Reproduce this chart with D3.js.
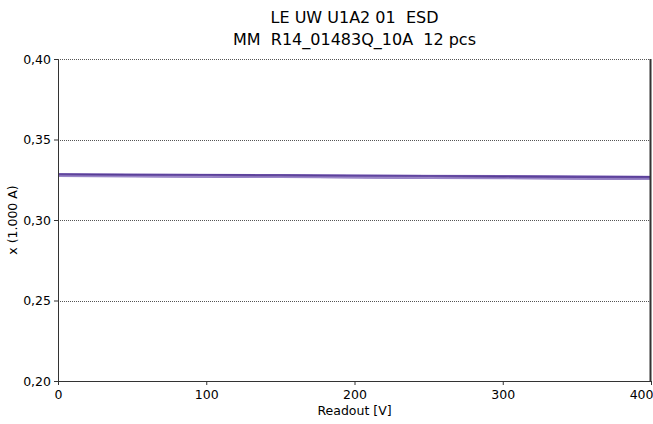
<!DOCTYPE html>
<meta charset="utf-8">
<style>
    body { margin: 0; background: #fff; }
    text { font-family: "DejaVu Sans", sans-serif; fill: #000; white-space: pre; }
    .grid line { stroke: #555; stroke-width: 1px; stroke-dasharray: 1,1; }
    .curve { fill: none; stroke-width: 1.8px; }
</style>
<body>
<script src="https://d3js.org/d3.v7.min.js"></script>
<script>

    // readout voltages
    var volts = [0, 50, 100, 150, 200, 250, 300, 350, 400];

    // 12 pieces, x (1.000 A)
    var pc01 = [0.3286, 0.3284, 0.3282, 0.3280, 0.3278, 0.3276, 0.3274, 0.3272, 0.3270];
    var pc02 = [0.3284, 0.3282, 0.3280, 0.3278, 0.3276, 0.3274, 0.3272, 0.3270, 0.3268];
    var pc03 = [0.3282, 0.3280, 0.3278, 0.3276, 0.3274, 0.3271, 0.3269, 0.3267, 0.3265];
    var pc04 = [0.3281, 0.3279, 0.3277, 0.3275, 0.3272, 0.3270, 0.3268, 0.3265, 0.3263];
    var pc05 = [0.3280, 0.3278, 0.3276, 0.3274, 0.3271, 0.3269, 0.3267, 0.3264, 0.3262];
    var pc06 = [0.3279, 0.3277, 0.3275, 0.3273, 0.3270, 0.3268, 0.3266, 0.3263, 0.3261];
    var pc07 = [0.3278, 0.3276, 0.3274, 0.3272, 0.3269, 0.3267, 0.3265, 0.3262, 0.3260];
    var pc08 = [0.3277, 0.3275, 0.3273, 0.3271, 0.3268, 0.3266, 0.3264, 0.3261, 0.3259];
    var pc09 = [0.3276, 0.3274, 0.3272, 0.3270, 0.3267, 0.3265, 0.3263, 0.3260, 0.3258];
    var pc10 = [0.3275, 0.3273, 0.3271, 0.3269, 0.3266, 0.3264, 0.3262, 0.3259, 0.3257];
    var pc11 = [0.3274, 0.3272, 0.3270, 0.3268, 0.3265, 0.3263, 0.3261, 0.3258, 0.3256];
    var pc12 = [0.3272, 0.3270, 0.3268, 0.3266, 0.3263, 0.3261, 0.3259, 0.3256, 0.3254];

    var pieces = [pc01, pc02, pc03, pc04, pc05, pc06, pc07, pc08, pc09, pc10, pc11, pc12];
    var colors = ["#a896d0", "#6a4ea8", "#5a3d98", "#4f3590", "#7a60b8", "#553a94",
                  "#61469f", "#4b3289", "#5d4299", "#8c74c0", "#543993", "#9a86c8"];

    var xTicks = [0, 100, 200, 300, 400];
    var yTicks = [0.20, 0.25, 0.30, 0.35, 0.40];

    var titleLines = ["LE UW U1A2 01  ESD", "MM  R14_01483Q_10A  12 pcs"];

    var margin = { top: 59, right: 2, bottom: 43, left: 58 },
        width = 653 - margin.left - margin.right,
        height = 424 - margin.top - margin.bottom;

    var svg = d3.select("body").append("svg")
        .attr("width", 653)
        .attr("height", 424);

    var g = svg.append("g")
        .attr("transform", "translate(" + margin.left + "," + margin.top + ")");

    var x = d3.scaleLinear().domain([0, 400]).range([0, width]);
    var y = d3.scaleLinear().domain([0.20, 0.40]).range([height, 0]);

    // dotted gridlines
    g.append("g").attr("class", "grid")
        .selectAll("line")
        .data(yTicks)
        .enter().append("line")
        .attr("x1", 0).attr("x2", width)
        .attr("y1", function (d) { return Math.round(y(d)) + 0.5; })
        .attr("y2", function (d) { return Math.round(y(d)) + 0.5; });

    // curves
    var line = d3.line()
        .x(function (d, i) { return x(volts[i]); })
        .y(function (d) { return y(d); });

    g.selectAll(".curve")
        .data(pieces)
        .enter().append("path")
        .attr("class", "curve")
        .style("stroke", function (d, i) { return colors[i]; })
        .attr("d", line);

    // axes
    var fmt = function (d) { return d3.format(".2f")(d).replace(".", ","); };

    var yAxis = g.append("g")
        .call(d3.axisLeft(y).tickValues(yTicks).tickFormat(fmt).tickSize(4).tickSizeOuter(0));
    var xAxis = g.append("g")
        .attr("transform", "translate(0," + height + ")")
        .call(d3.axisBottom(x).tickValues(xTicks).tickSize(4).tickSizeOuter(0));

    [xAxis, yAxis].forEach(function (a) {
        a.select(".domain").attr("stroke", "#333");
        a.selectAll(".tick line").attr("stroke", "#333");
        a.selectAll("text").style("font-size", "12.5px").attr("fill", "#000");
    });
    xAxis.selectAll("text").attr("dy", "0.9em");
    // last label kept inside the window
    xAxis.selectAll(".tick").filter(function (d) { return d === 400; })
        .select("text").attr("text-anchor", "end").attr("x", 2);

    // right border
    g.append("line")
        .attr("x1", width - 0.5).attr("x2", width - 0.5)
        .attr("y1", 0).attr("y2", height)
        .attr("stroke", "#333").attr("stroke-width", 2);

    // title
    svg.selectAll(".title")
        .data(titleLines)
        .enter().append("text")
        .attr("class", "title")
        .attr("x", margin.left + width / 2)
        .attr("y", function (d, i) { return 23 + i * 22; })
        .attr("text-anchor", "middle")
        .style("font-size", "16px")
        .text(function (d) { return d; });

    // axis labels
    svg.append("text")
        .attr("x", margin.left + width / 2)
        .attr("y", 415)
        .attr("text-anchor", "middle")
        .style("font-size", "12.5px")
        .text("Readout [V]");

    svg.append("text")
        .attr("transform", "translate(17," + (margin.top + height / 2) + ") rotate(-90)")
        .attr("text-anchor", "middle")
        .style("font-size", "12.5px")
        .text("x (1.000 A)");

</script>
</body>
